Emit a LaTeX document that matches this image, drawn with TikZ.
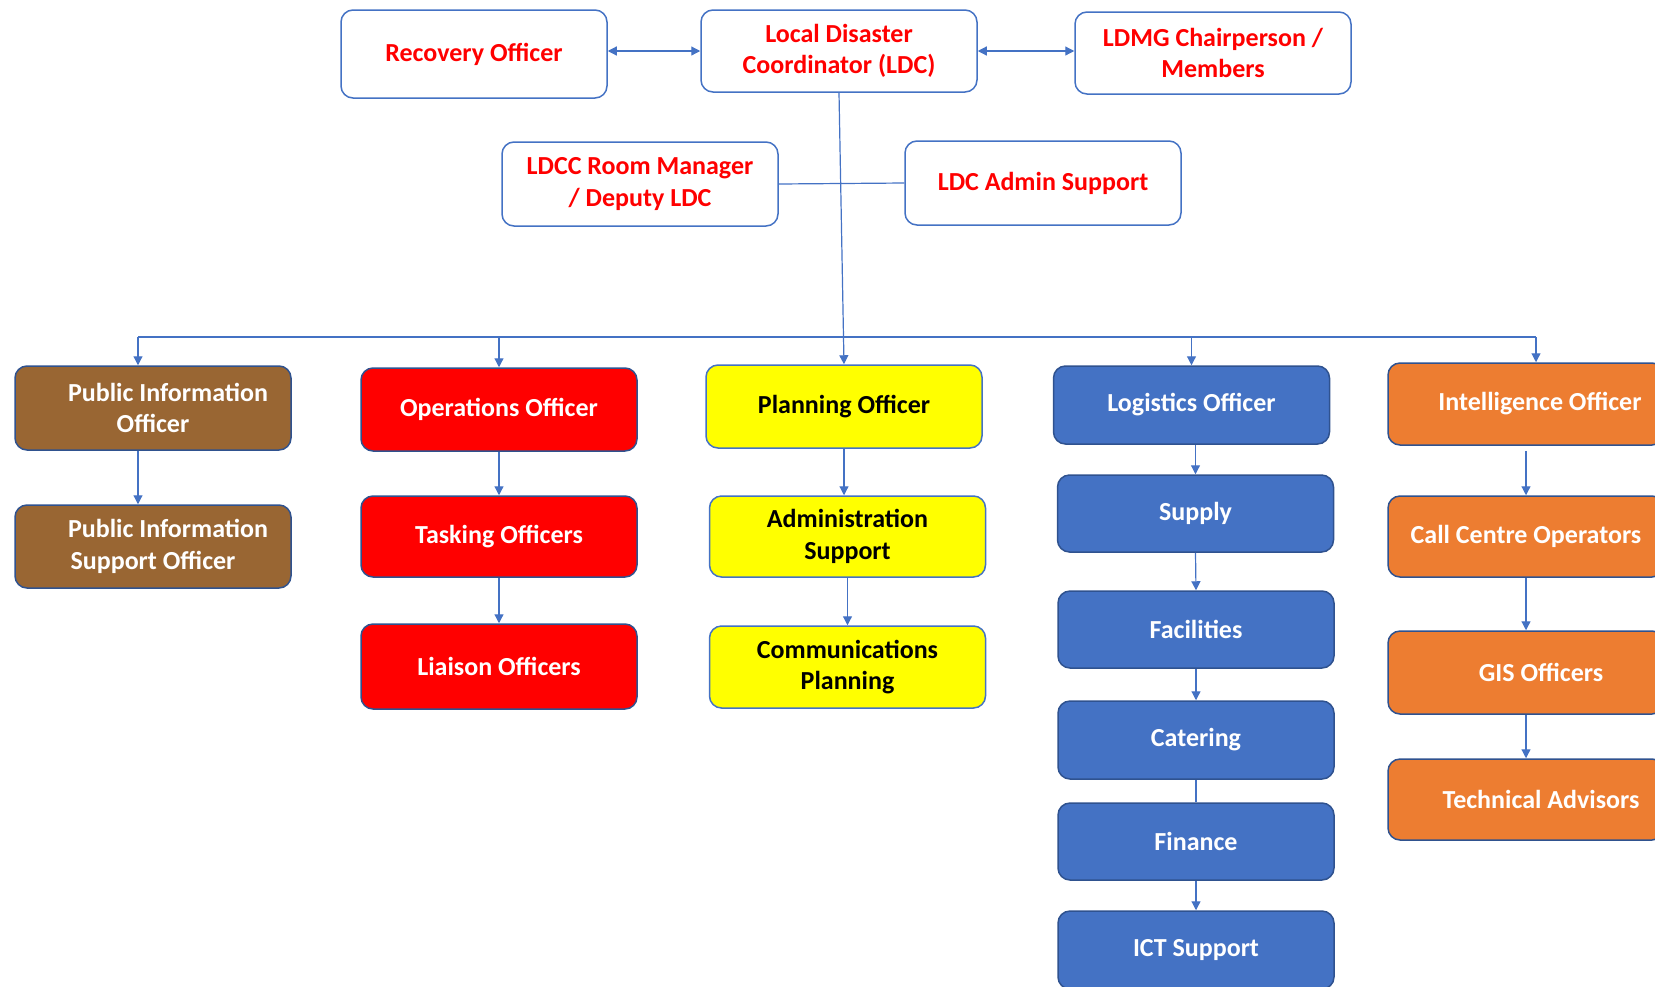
\documentclass[tikz,border=0pt]{standalone}
\usepackage{fontspec}
\setmainfont{Carlito}
\usetikzlibrary{arrows.meta, positioning}

\definecolor{ldcblue}{HTML}{4472C4}
\definecolor{ldcedge}{HTML}{2F528F}
\definecolor{ldcbrown}{HTML}{996633}
\definecolor{ldcred}{HTML}{FF0000}
\definecolor{ldcyellow}{HTML}{FFFF00}
\definecolor{ldcorange}{HTML}{ED7D31}

\begin{document}
\begin{tikzpicture}[
  x=0.5pt, y=-0.5pt,
  >={Triangle[length=4.5pt, width=4.5pt]},
  every node/.style = {font=\bfseries\fontsize{13}{15.8}\selectfont},
  %-- box styles ---------------------------------------------------------
  box/.style       = {draw, rounded corners=6pt, line width=0.75pt,
                      minimum width=138pt, minimum height=41pt,
                      align=center, inner sep=2pt},
  topbox/.style    = {box, draw=ldcblue, fill=white, text=ldcred},
  brownbox/.style  = {box, draw=ldcedge, fill=ldcbrown, text=white},
  redbox/.style    = {box, draw=ldcedge, fill=ldcred, text=white},
  yellowbox/.style = {box, draw=ldcblue, fill=ldcyellow, text=black},
  bluebox/.style   = {box, draw=ldcedge, fill=ldcblue, text=white,
                      minimum height=38.5pt},
  orangebox/.style = {box, draw=ldcedge, fill=ldcorange, text=white},
  link/.style      = {draw=ldcblue, line width=0.6pt},
  arrow/.style     = {link, ->},
  biarrow/.style   = {link, <->},
]
\useasboundingbox (0,0) rectangle (1655,986);
\clip (0,0) rectangle (1655,986);

% ── Top row: coordinator and peers ───────────────────────────────────────────
\node[topbox, minimum width=133pt, minimum height=44pt] (Rec) at (474,54) {Recovery Officer};
\node[topbox] (LDC)  at (839,51)  {Local Disaster\\Coordinator (LDC)};
\node[topbox] (LDMG) at (1213,53) {LDMG Chairperson /\\Members};

\node[topbox, minimum height=42pt] (Mgr) at (640,184) {LDCC Room Manager\\/ Deputy LDC};
\node[topbox, minimum height=42pt] (Adm) at (1043,183) {LDC Admin Support};

\draw[biarrow] (Rec.east |- LDC.west) -- (LDC.west);
\draw[biarrow] (LDC.east) -- (LDMG.west |- LDC.east);
\draw[link] (Mgr.east) -- (Adm.west);

% ── Public information column ─────────────────────────────────────────────────
\node[brownbox, minimum height=42pt] (PIO)  at (153,408)   {\hspace*{15pt}Public Information\\Officer};
\node[brownbox, minimum height=41.5pt] (PISO) at (153,546.5) {\hspace*{15pt}Public Information\\Support Officer};

% ── Operations column ─────────────────────────────────────────────────────────
\node[redbox, minimum height=41.5pt] (Ops)  at (499,409.5) {Operations Officer};
\node[redbox, minimum height=40.5pt] (Task) at (499,536.5) {Tasking Officers};
\node[redbox, minimum height=42.5pt] (Liai) at (499,666.5) {Liaison Officers};

% ── Planning column ───────────────────────────────────────────────────────────
\node[yellowbox, minimum height=41.5pt] (Plan)  at (844,406.5)   {Planning Officer};
\node[yellowbox, minimum height=40.5pt] (AdSup) at (847.5,536.5) {Administration\\Support};
\node[yellowbox] (Comm) at (847.5,667) {Communications\\Planning};

% ── Logistics column ──────────────────────────────────────────────────────────
\node[bluebox, minimum height=39pt] (Log) at (1191.5,405) {Logistics Officer};
\node[bluebox] (Sup)  at (1195.5,513.5) {Supply};
\node[bluebox] (Fac)  at (1196,629.5)   {Facilities};
\node[bluebox, minimum height=39pt] (Cat)  at (1196,740)     {Catering};
\node[bluebox] (Fin)  at (1196,841.5)   {Finance};
\node[bluebox, minimum height=39pt] (ICT)  at (1196,950)     {ICT Support};

% ── Intelligence column ───────────────────────────────────────────────────────
\node[orangebox] (Int)  at (1526,404)   {\hspace*{14pt}Intelligence Officer};
\node[orangebox, minimum height=40.5pt] (Call) at (1526,536.5) {Call Centre Operators};
\node[orangebox, minimum height=41.5pt] (GIS)  at (1526,672.5) {\hspace*{15pt}GIS Officers};
\node[orangebox, minimum height=40.5pt] (Tech) at (1526,799.5) {\hspace*{15pt}Technical Advisors};

% ── LDC down to the functional leads ──────────────────────────────────────────
\coordinate (busL) at (138,337);
\coordinate (busR) at (1536,337);

\draw[arrow] (LDC.south) -- (Plan.north);
\draw[link]  (busL) -- (busR);
\draw[arrow] (busL) -- (busL |- PIO.north);
\draw[arrow] (Ops.north |- busL) -- (Ops.north);
\draw[arrow] (Log.north |- busL) -- (Log.north);
\draw[arrow] (busR) -- (busR |- Int.north);

% ── Within each column ────────────────────────────────────────────────────────
\draw[arrow] (busL |- PIO.south) -- (busL |- PISO.north);

\draw[arrow] (Ops.south)  -- (Task.north);
\draw[arrow] (Task.south) -- (Liai.north);

\draw[arrow] (Plan.south) -- (Plan.south |- AdSup.north);
\draw[arrow] (AdSup.south) -- (Comm.north);

\draw[arrow] (Sup.north |- Log.south) -- (Sup.north);
\draw[arrow] (Sup.south) -- (Fac.north);
\draw[arrow] (Fac.south) -- (Cat.north);
\draw[link]  (Cat.south) -- (Fin.north);
\draw[arrow] (Fin.south) -- (ICT.north);

\draw[arrow] ([yshift=-2.5pt]Int.south) -- (Call.north);
\draw[arrow] (Call.south) -- (GIS.north);
\draw[arrow] (GIS.south)  -- (Tech.north);

\end{tikzpicture}
\end{document}
